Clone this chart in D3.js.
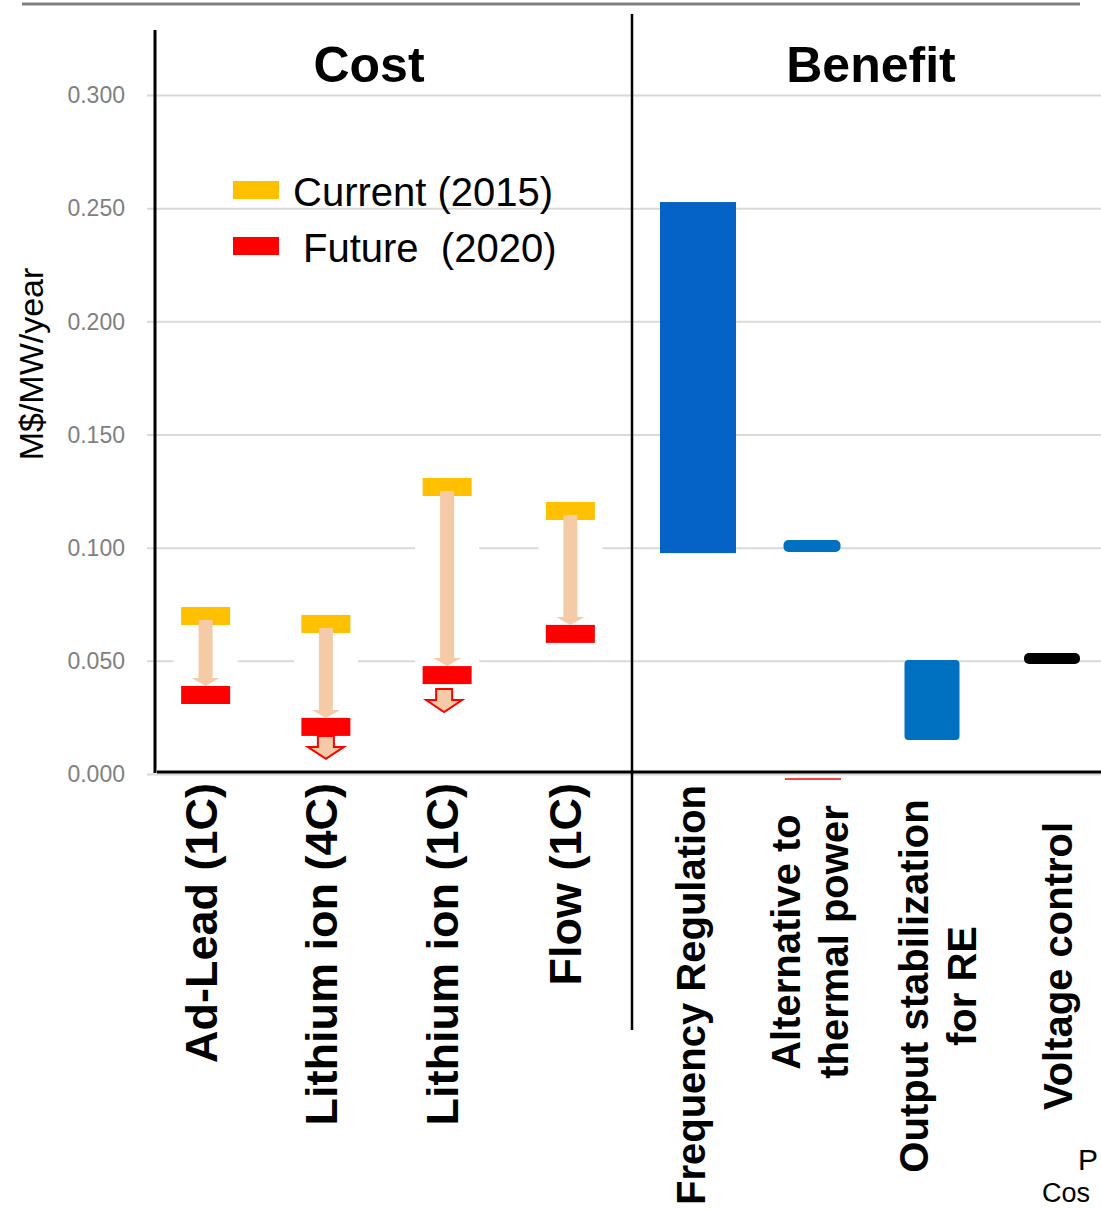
<!DOCTYPE html>
<html>
<head>
<meta charset="utf-8">
<script src="https://cdn.jsdelivr.net/npm/d3@7"></script>
<style>
  html, body { margin: 0; padding: 0; background: #fff; }
  svg { display: block; }
  text { font-family: "Liberation Sans", Arial, sans-serif; }
</style>
</head>
<body>
<svg id="chart" width="1101" height="1209"></svg>
<script>
// ---------- data ----------
const yTicks = [0, 0.05, 0.10, 0.15, 0.20, 0.25, 0.30];
const costCategories = ["Ad-Lead (1C)", "Lithium ion (4C)", "Lithium ion (1C)", "Flow (1C)"];
const current2015 = [0.0698, 0.0663, 0.1268, 0.1162];
const future2020 = [0.0349, 0.0208, 0.0437, 0.0619];
const furtherDecline = [false, true, true, false];

const benefitCategories = [
  ["Frequency Regulation"],
  ["Alternative to", "thermal power"],
  ["Output stabilization", "for RE"],
  ["Voltage control"]
];
const benefitLow = [0.0976, 0.0981, 0.0150, 0.0486];
const benefitHigh = [0.2527, 0.1034, 0.0504, 0.0535];

const legendLabels = ["Current (2015)", "Future  (2020)"];

// ---------- styles / layout ----------
const COL_CUR = "#FFC000", COL_FUT = "#FF0000", COL_ARROW = "#F5CBA7";
const costShift = [-1, -2, -2, 0];
const benefitStyle = [
  { w: 76, fill: "#0563C8", r: 0, dx: 0 },
  { w: 57, fill: "#0070C0", r: 5, dx: -4 },
  { w: 55, fill: "#0070C0", r: 4, dx: -2 },
  { w: 56, fill: "#000000", r: 5, dx: 0 }
];
const benefitLabelLayout = [
  { dx: 7, cy: 995 },
  { dx: -16, cy: 942 },
  { dx: -6, cy: 986 },
  { dx: 20, cy: 966 }
];

const svg = d3.select("#chart");
const y = d3.scaleLinear().domain([0, 0.3]).range([774, 95]);
const xCost = d3.scaleBand().domain(costCategories).range([146, 631]);
const xBen = d3.scaleBand().domain(benefitCategories.map(d => d.join(" "))).range([639, 1111]);

// top gray rule
svg.append("line").attr("x1", 22).attr("x2", 1080).attr("y1", 4).attr("y2", 4)
  .attr("stroke", "#808080").attr("stroke-width", 3);

// gridlines + tick labels via axis
const yAxis = d3.axisLeft(y).tickValues(yTicks).tickFormat(d3.format(".3f"))
  .tickSize(-(1101 - 147)).tickPadding(22);
const gAxis = svg.append("g").attr("transform", "translate(147,0)").call(yAxis);
gAxis.select(".domain").remove();
gAxis.selectAll(".tick line").attr("stroke", "#d9d9d9").attr("stroke-width", 2);
gAxis.selectAll(".tick text").attr("fill", "#7f7f7f").attr("font-size", 23)
  .style("font-family", "'Liberation Sans', Arial, sans-serif").attr("dy", "0.34em");

// y title
svg.append("text").attr("transform", "translate(43,364) rotate(-90)")
  .attr("text-anchor", "middle").attr("font-size", 34).attr("fill", "#000")
  .text("M$/MW/year");

// ---------- cost group ----------
const mw = 49, mh = 18;
const cost = svg.append("g");
costCategories.forEach((c, i) => {
  const cx = xCost(c) + xCost.bandwidth() / 2 + costShift[i];
  const yc = y(current2015[i]), yf = y(future2020[i]);
  // white backing box
  cost.append("rect").attr("x", cx - 32).attr("width", 64)
    .attr("y", yc - mh / 2 - 5).attr("height", (yf - yc) + mh + 8).attr("fill", "#fff");
  // yellow marker
  cost.append("rect").attr("x", cx - mw / 2).attr("width", mw)
    .attr("y", yc - mh / 2).attr("height", mh).attr("fill", COL_CUR);
  // red marker
  cost.append("rect").attr("x", cx - mw / 2).attr("width", mw)
    .attr("y", yf - mh / 2).attr("height", mh).attr("fill", COL_FUT);
  // arrow from current to future
  const top = yc + mh / 2 - 5, tip = yf - mh / 2, headBase = tip - 8;
  cost.append("path")
    .attr("d", `M${cx - 7},${top} L${cx + 7},${top} L${cx + 7},${headBase} L${cx + 14},${headBase} L${cx},${tip} L${cx - 14},${headBase} L${cx - 7},${headBase} Z`)
    .attr("fill", COL_ARROW);
  // further decline arrow
  if (furtherDecline[i]) {
    const t0 = yf + mh / 2 + (i === 2 ? 5 : 0), hb = t0 + 11, tp = hb + 12;
    const ax = cx - (i === 2 ? 3 : 0);
    cost.append("path")
      .attr("d", `M${ax - 8},${t0} L${ax + 8},${t0} L${ax + 8},${hb} L${ax + 18},${hb} L${ax},${tp} L${ax - 18},${hb} L${ax - 8},${hb} Z`)
      .attr("fill", COL_ARROW).attr("stroke", COL_FUT).attr("stroke-width", 2);
  }
  // category label
  cost.append("text")
    .attr("transform", `translate(${cx + 11},783) rotate(-90)`)
    .attr("text-anchor", "end").attr("font-size", 45).attr("font-weight", "bold")
    .text(c);
});

// ---------- benefit group ----------
const ben = svg.append("g");
let altCx = 0;
benefitCategories.forEach((lines, i) => {
  const key = lines.join(" ");
  const st = benefitStyle[i];
  const cx0 = xBen(key) + xBen.bandwidth() / 2;
  const cx = cx0 + st.dx;
  if (i === 1) altCx = cx;
  ben.append("rect").attr("x", cx - st.w / 2).attr("width", st.w)
    .attr("y", y(benefitHigh[i])).attr("height", y(benefitLow[i]) - y(benefitHigh[i]))
    .attr("rx", st.r).attr("ry", st.r).attr("fill", st.fill);
  const L = benefitLabelLayout[i];
  const t = ben.append("text")
    .attr("transform", `translate(${cx0 + L.dx},${L.cy}) rotate(-90)`)
    .attr("text-anchor", "middle").attr("font-size", 40).attr("font-weight", "bold");
  lines.forEach((ln, j) => {
    t.append("tspan").attr("x", 0).attr("y", j * 48).text(ln);
  });
});
// small red stroke under the thermal-power bar
svg.append("line").attr("x1", altCx - 27).attr("x2", altCx + 29).attr("y1", 779).attr("y2", 779)
  .attr("stroke", "#FF0000").attr("stroke-width", 1.5);

// ---------- frame lines ----------
svg.append("line").attr("x1", 155).attr("x2", 155).attr("y1", 30).attr("y2", 773)
  .attr("stroke", "#000").attr("stroke-width", 3);
svg.append("line").attr("x1", 632).attr("x2", 632).attr("y1", 14).attr("y2", 1030)
  .attr("stroke", "#000").attr("stroke-width", 2.5);
svg.append("line").attr("x1", 157).attr("x2", 1101).attr("y1", 772).attr("y2", 772)
  .attr("stroke", "#000").attr("stroke-width", 3);

// ---------- titles ----------
svg.append("text").attr("x", 369).attr("y", 82).attr("text-anchor", "middle")
  .attr("font-size", 50).attr("font-weight", "bold").text("Cost");
svg.append("text").attr("x", 871).attr("y", 82).attr("text-anchor", "middle")
  .attr("font-size", 50).attr("font-weight", "bold").text("Benefit");

// ---------- legend ----------
const lg = svg.append("g");
[COL_CUR, COL_FUT].forEach((col, i) => {
  lg.append("rect").attr("x", 233).attr("y", 181 + i * 56).attr("width", 46).attr("height", 18).attr("fill", col);
  lg.append("text").attr("x", i === 0 ? 293 : 303).attr("y", 206 + i * 56)
    .attr("font-size", 40).style("white-space", "pre").attr("xml:space", "preserve")
    .text(legendLabels[i]);
});

// ---------- corner text fragments (as in the reference) ----------
svg.append("text").attr("x", 1078).attr("y", 1170).attr("font-size", 30).text("P");
svg.append("text").attr("x", 1042).attr("y", 1202).attr("font-size", 27).text("Cos");
</script>
</body>
</html>
